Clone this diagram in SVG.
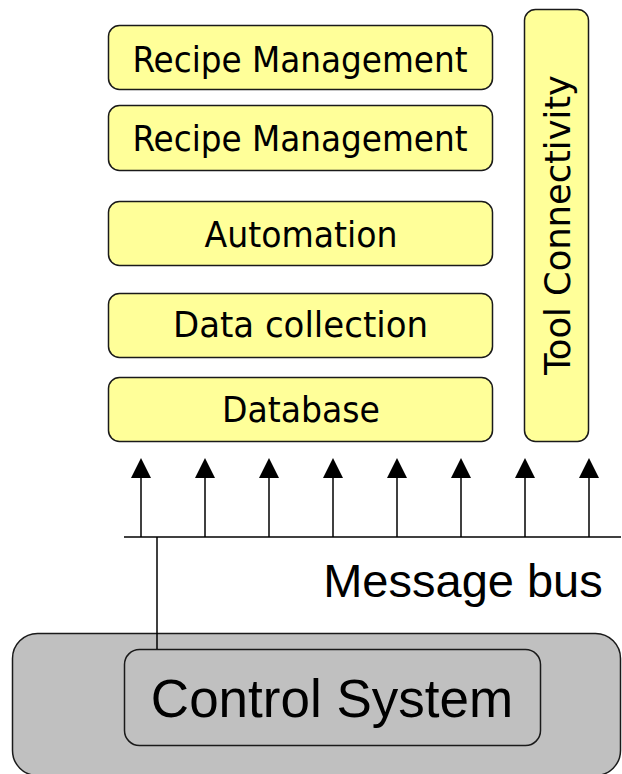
<svg xmlns="http://www.w3.org/2000/svg" width="622" height="774" viewBox="0 0 622 774">
<defs>
<style>
.box{fill:#FFFF99;stroke:#1a1a1a;stroke-width:1.5}
.lbl{font-family:"DejaVu Sans Condensed","DejaVu Sans",sans-serif;font-stretch:condensed;font-size:36px;fill:#000;text-anchor:middle}
.ln{stroke:#000;stroke-width:1.5;fill:none}
.gray{fill:#C0C0C0;stroke:#1a1a1a;stroke-width:1.5}
.big{font-family:"Liberation Sans",Arial,sans-serif;fill:#000}
</style>
</defs>
<rect width="622" height="774" fill="#fff"/>
<g id="recipe1"><rect class="box" x="108.5" y="25.5" width="384" height="64" rx="11"/><text class="lbl" x="300" y="72" textLength="335" lengthAdjust="spacingAndGlyphs">Recipe Management</text></g>
<g id="recipe2"><rect class="box" x="108.5" y="105.5" width="384" height="65" rx="11"/><text class="lbl" x="300" y="151" textLength="335" lengthAdjust="spacingAndGlyphs">Recipe Management</text></g>
<g id="automation"><rect class="box" x="108.5" y="201.5" width="384" height="64" rx="11"/><text class="lbl" x="301" y="247" textLength="193" lengthAdjust="spacingAndGlyphs">Automation</text></g>
<g id="datacollection"><rect class="box" x="108.5" y="293.5" width="384" height="64" rx="11"/><text class="lbl" x="300.5" y="337" textLength="255" lengthAdjust="spacingAndGlyphs">Data collection</text></g>
<g id="database"><rect class="box" x="108.5" y="377.5" width="384" height="64" rx="11"/><text class="lbl" x="301" y="422" textLength="158" lengthAdjust="spacingAndGlyphs">Database</text></g>
<g id="toolconnectivity"><rect class="box" x="524.5" y="9.5" width="64" height="432" rx="11"/><text class="lbl" transform="translate(570,225) rotate(-90)" textLength="300" lengthAdjust="spacingAndGlyphs">Tool Connectivity</text></g>
<g id="controlsystem">
<rect class="gray" x="12.5" y="633.5" width="608" height="142" rx="25"/>
<rect class="gray" x="124.5" y="649.5" width="416" height="96" rx="15"/>
<text class="big" x="332" y="717" font-size="53" text-anchor="middle">Control System</text>
</g>
<g id="connectors">
<line class="ln" x1="124" y1="537" x2="621" y2="537"/>
<line class="ln" x1="157" y1="537" x2="157" y2="649"/>
<g fill="#000">
<line class="ln" x1="141" y1="537" x2="141" y2="476"/><path d="M131,478 L151,478 L141,458 Z"/>
<line class="ln" x1="205" y1="537" x2="205" y2="476"/><path d="M195,478 L215,478 L205,458 Z"/>
<line class="ln" x1="269" y1="537" x2="269" y2="476"/><path d="M259,478 L279,478 L269,458 Z"/>
<line class="ln" x1="333" y1="537" x2="333" y2="476"/><path d="M323,478 L343,478 L333,458 Z"/>
<line class="ln" x1="397" y1="537" x2="397" y2="476"/><path d="M387,478 L407,478 L397,458 Z"/>
<line class="ln" x1="461" y1="537" x2="461" y2="476"/><path d="M451,478 L471,478 L461,458 Z"/>
<line class="ln" x1="525" y1="537" x2="525" y2="476"/><path d="M515,478 L535,478 L525,458 Z"/>
<line class="ln" x1="589" y1="537" x2="589" y2="476"/><path d="M579,478 L599,478 L589,458 Z"/>
</g>
<text class="big" x="463" y="597" font-size="47" text-anchor="middle">Message bus</text>
</g>
</svg>
